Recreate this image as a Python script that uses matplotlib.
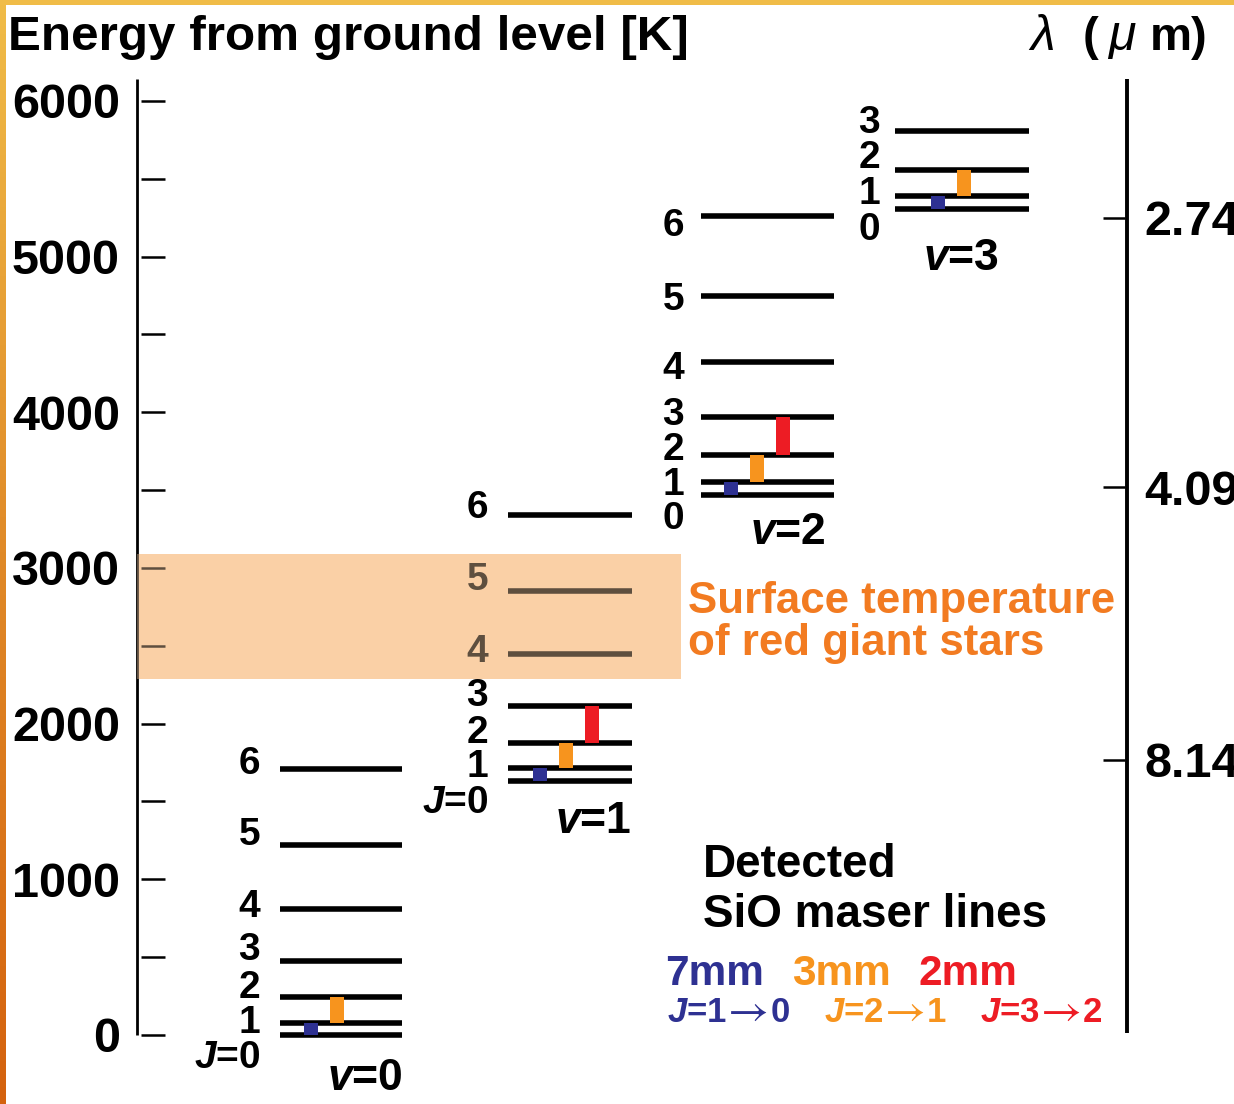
import matplotlib
matplotlib.use("Agg")
import matplotlib.pyplot as plt
import numpy as np
from matplotlib.patches import Rectangle
from matplotlib.colors import LinearSegmentedColormap

plt.rcParams['font.family'] = ['Liberation Sans', 'DejaVu Sans']
plt.rcParams['font.weight'] = 'bold'
plt.rcParams['mathtext.fontset'] = 'custom'
plt.rcParams['mathtext.rm'] = 'Liberation Sans:bold'
plt.rcParams['mathtext.it'] = 'Liberation Sans:italic:normal'
plt.rcParams['mathtext.bf'] = 'Liberation Sans:bold'
plt.rcParams['mathtext.bfit'] = 'Liberation Sans:bold:italic'

# rotational ladders of SiO, energy above ground in K (J = 0, 1, 2, ...)
levels_v0 = [0, 79, 246, 478, 809, 1221, 1710]
levels_v1 = [1629, 1713, 1873, 2111, 2445, 2851, 3339]
levels_v2 = [3468, 3552, 3723, 3970, 4324, 4749, 5264]
levels_v3 = [5303, 5389, 5558, 5807]
ladders = [levels_v0, levels_v1, levels_v2, levels_v3]

# detected maser lines (upper J) in each vibrational state
maser_bands = ['7mm', '3mm', '2mm']
maser_upper = [1, 2, 3]
maser_colors = ['#2E3192', '#F7941E', '#ED1C24']
masers_per_v = [[1, 2], [1, 2, 3], [1, 2, 3], [1, 2]]

energy_major = [0, 1000, 2000, 3000, 4000, 5000, 6000]
energy_minor = [500, 1500, 2500, 3500, 4500, 5500]
wavelengths = [2.74, 4.09, 8.14]    # micron
HC_OVER_K = 14388.0                 # micron * K
red_giant_T = (2290, 3090)

# page layout, in pixels
W, H = 1234, 1104
Y0 = 1035            # row of E = 0
PX_PER_K = 0.15567
lad_x0 = [280, 508, 701, 895]
lad_x1 = [402, 632, 834, 1029]
bar_x0 = [24, 25, 23, 36]
bar_step = 26
bar_w = 14
jlab_gap = [20, 20, 17, 15]
jlab_dy = [[16, -7, -16, -18, -9, -17, -12],
           [15, -8, -17, -17, -9, -18, -14],
           [17, -4, -12, -9, 0, -3, 3],
           [14, -9, -19, -15]]
vlab_x = [403, 631, 826, 999]
vlab_dy = [36, 33, 30, 42]
band_color = '#FAD0A6'


def row(y):
    # pixel row -> energy on the axes
    return (Y0 - y) / PX_PER_K


fig = plt.figure(figsize=(W / 100, H / 100), dpi=100)
ax = fig.add_axes([0, 0, 1, 1])
ax.set_xlim(0, W)
ax.set_ylim(row(H), row(0))
ax.axis('off')
renderer = fig.canvas.get_renderer()

# left energy axis
ax.vlines(137, 0, row(79), color='black', lw=2.0, zorder=2)
ax.hlines(energy_major + energy_minor, 141, 165, color='black', lw=1.8, zorder=2)
for e in energy_major:
    ax.text(120, e, str(e), ha='right', va='center_baseline', fontsize=35)

# right wavelength axis
ax.vlines(1127, row(1033), row(79), color='black', lw=2.8, zorder=2)
for lam in wavelengths:
    e = HC_OVER_K / lam
    ax.hlines(e, 1103, 1125, color='black', lw=1.8, zorder=2)
    ax.text(1144, e, f'{lam:.2f}', ha='left', va='center_baseline', fontsize=35)

# energy levels, J labels and maser bars
for v, lev in enumerate(ladders):
    ax.hlines(lev, lad_x0[v], lad_x1[v], color='black', lw=4.0, zorder=3)
    for j, e in enumerate(lev):
        if j == 0 and v < 2:
            s = r'$\mathbfit{J}$=0'
        else:
            s = str(j)
        ax.annotate(s, (lad_x0[v] - jlab_gap[v], e), xytext=(0, -jlab_dy[v][j] - 3),
                    textcoords='offset pixels', ha='right', va='center_baseline',
                    fontsize=28)
    ax.annotate(r'$\mathbfit{v}$=%d' % v, (vlab_x[v], lev[0]), xytext=(0, -vlab_dy[v] - 3),
                textcoords='offset pixels', ha='right', va='center_baseline', fontsize=32)
    for k, ju in enumerate(masers_per_v[v]):
        ax.bar(lad_x0[v] + bar_x0[v] + k * bar_step, lev[ju] - lev[ju - 1],
               bottom=lev[ju - 1], width=bar_w, align='edge',
               color=maser_colors[ju - 1], zorder=4)

# red giant surface temperature band
lo, hi = red_giant_T
ax.add_patch(Rectangle((137, lo), 681 - 137, hi - lo, facecolor=band_color,
                       edgecolor='none', zorder=1))
ax.add_patch(Rectangle((137, lo), 681 - 137, hi - lo, facecolor=band_color,
                       edgecolor='none', alpha=0.38, zorder=6))
orange_txt = '#F27B21'
ax.text(688, row(613), 'Surface temperature', color=orange_txt, fontsize=31.6, va='baseline')
ax.text(688, row(655), 'of red giant stars', color=orange_txt, fontsize=31.6, va='baseline')

# headers
ax.text(8, row(50), 'Energy from ground level [K]', fontsize=35.6, va='baseline')
ax.text(1030, row(50), 'λ', fontsize=36, va='baseline', style='italic', weight='normal')
ax.text(1083, row(50), '(', fontsize=34, va='baseline')
ax.text(1108, row(50), 'μ', fontsize=36, va='baseline', style='italic', weight='normal')
ax.text(1150, row(50), 'm)', fontsize=34, va='baseline')

# key for maser lines
ax.text(703, row(877), 'Detected', fontsize=33, va='baseline')
ax.text(703, row(927), 'SiO maser lines', fontsize=33, va='baseline')
key_x = [665, 792, 919]
key_x2 = [667, 824, 980]
for i, name in enumerate(maser_bands):
    c = maser_colors[i]
    ax.text(key_x[i], row(985), name, color=c, fontsize=30.5, va='baseline')
    # "J=n", a thin arrow, then the lower level, laid out one after another
    t = ax.text(key_x2[i], row(1022), r'$\mathbfit{J}$=%d' % maser_upper[i],
                color=c, fontsize=25, va='baseline')
    xa = t.get_window_extent(renderer).x1 + 1
    t = ax.text(xa, row(1024), '→', color=c, fontsize=32, va='baseline',
                family='STIXGeneral', weight='normal')
    xb = t.get_window_extent(renderer).x1 + 1
    ax.text(xb, row(1022), str(maser_upper[i] - 1), color=c, fontsize=25, va='baseline')

# page border: flat yellow top, yellow-to-orange left edge
edge_cmap = LinearSegmentedColormap.from_list('edge', ['#F0BC48', '#E08A28', '#D4620E'])
ax.imshow(np.linspace(0, 1, 256).reshape(-1, 1), cmap=edge_cmap, aspect='auto',
          extent=(0, 6, row(H), row(0)), zorder=10)
ax.add_patch(Rectangle((0, row(5)), W, row(0) - row(5), facecolor='#F0BC48',
                       edgecolor='none', zorder=10))
ax.set_xlim(0, W)
ax.set_ylim(row(H), row(0))

fig.savefig('out.png', dpi=100)
